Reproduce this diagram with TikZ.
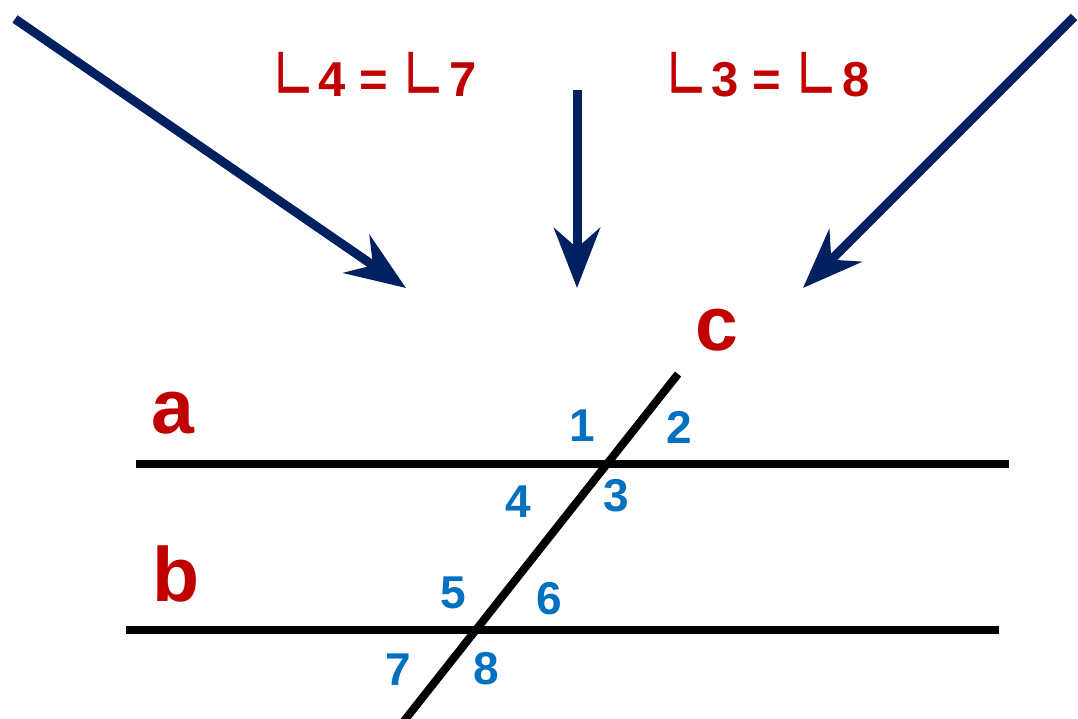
\documentclass[tikz,border=0pt]{standalone}
\usepackage{graphicx}
\usepackage{fontspec}
\setmainfont{Liberation Sans}
\newfontfamily\symfont{DejaVu Sans ExtraLight}
\usetikzlibrary{arrows.meta}
\definecolor{darkred}{HTML}{C00000}
\definecolor{numblue}{HTML}{0070C0}
\definecolor{navy}{HTML}{002060}
\pgfdeclareradialshading{bgshade}{\pgfpoint{0bp}{0bp}}{color(0bp)=(white); color(38bp)=(white); color(72bp)=(black!6)}
\tikzset{
  thickline/.style={line width=8pt, black},
  arrowline/.style={navy, line width=9pt, -{Stealth[length=60pt,width=46pt,inset=20pt]}},
  lbl/.style={text=darkred, font=\fontsize{77}{77}\selectfont\bfseries, inner sep=0pt},
  num/.style={text=numblue, font=\fontsize{46}{46}\selectfont\bfseries, inner sep=0pt},
  eq/.style={text=darkred, font=\fontsize{49}{49}\selectfont\bfseries, inner sep=0pt, anchor=base},
}
\newcommand{\angsym}{\raisebox{-4pt}{\scalebox{1}[1.35]{\fontsize{54}{54}\symfont ∟}}\hspace{2pt}}
\begin{document}
\begin{tikzpicture}[x=1pt,y=-1pt]
\useasboundingbox (0,0) rectangle (1078,719);
\shade[shading=bgshade] (0,0) rectangle (1078,719);
% line endpoints
\coordinate (a1) at (136,464);
\coordinate (a2) at (1009,464);
\coordinate (b1) at (126,630);
\coordinate (b2) at (999,630);
\coordinate (c1) at (678,374);
\coordinate (c2) at (404,721);
\draw[thickline] (a1) -- (a2);
\draw[thickline] (b1) -- (b2);
\draw[thickline] (c1) -- (c2);
% line labels
\node[lbl] (la) at (173,413) {a};
\node[lbl] (lb) at (176,574) {b};
\node[lbl] (lc) at (717,330) {c};
% angle numbers
\node[num] (n1) at (582,426) {1};
\node[num] (n2) at (679,427) {2};
\node[num] (n3) at (616,496) {3};
\node[num] (n4) at (518,502) {4};
\node[num] (n5) at (453,593) {5};
\node[num] (n6) at (549,599) {6};
\node[num] (n7) at (398,670) {7};
\node[num] (n8) at (486,669) {8};
% equations
\node[eq] (e1) at (374,97) {\angsym4 = \angsym7};
\node[eq] (e2) at (767,97) {\angsym3 = \angsym8};
% arrows
\coordinate (s1) at (15,19);
\coordinate (t1) at (406,288);
\coordinate (s2) at (577,90);
\coordinate (t2) at (577,288);
\coordinate (s3) at (1074,17);
\coordinate (t3) at (803,288);
\draw[arrowline] (s1) -- (t1);
\draw[arrowline] (s2) -- (t2);
\draw[arrowline] (s3) -- (t3);
\end{tikzpicture}
\end{document}
